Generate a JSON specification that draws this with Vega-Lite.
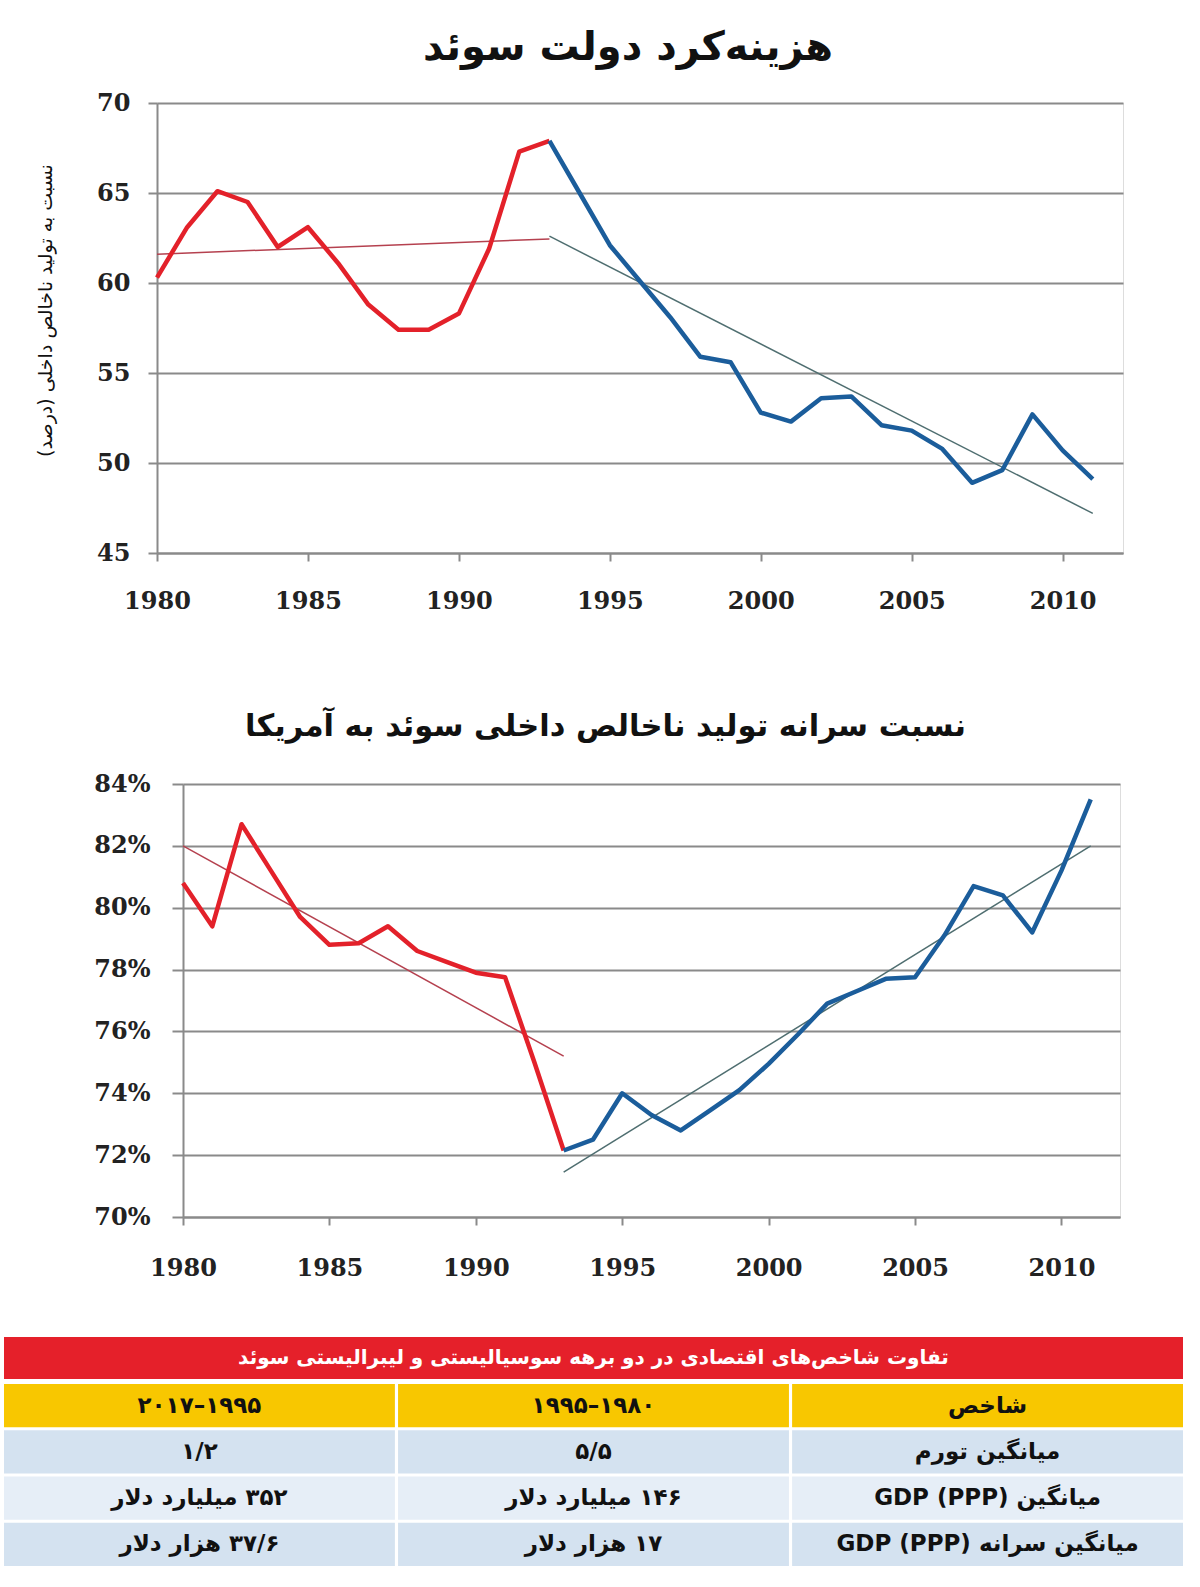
{
  "$schema": "https://vega.github.io/schema/vega-lite/v6.json",
  "background": "white",
  "padding": {"left": 4, "top": 27, "right": 0, "bottom": 0},
  "columns": 1,
  "align": "none",
  "bounds": "full",
  "spacing": 5,
  "resolve": {"scale": {"color": "independent"}},
  "config": {
    "font": "DejaVu Sans",
    "axis": {"labelFont": "DejaVu Serif", "labelFontWeight": "bold", "labelFontSize": 24, "labelColor": "#222"}
  },
  "datasets": {
    "gov": [
      {"year": 1980, "value": 60.3, "part": "a"}, {"year": 1981, "value": 63.1, "part": "a"},
      {"year": 1982, "value": 65.1, "part": "a"}, {"year": 1983, "value": 64.5, "part": "a"},
      {"year": 1984, "value": 62.0, "part": "a"}, {"year": 1985, "value": 63.1, "part": "a"},
      {"year": 1986, "value": 61.1, "part": "a"}, {"year": 1987, "value": 58.8, "part": "a"},
      {"year": 1988, "value": 57.4, "part": "a"}, {"year": 1989, "value": 57.4, "part": "a"},
      {"year": 1990, "value": 58.3, "part": "a"}, {"year": 1991, "value": 61.9, "part": "a"},
      {"year": 1992, "value": 67.3, "part": "a"}, {"year": 1993, "value": 67.9, "part": "a"},
      {"year": 1993, "value": 67.9, "part": "b"}, {"year": 1994, "value": 65.0, "part": "b"},
      {"year": 1995, "value": 62.1, "part": "b"}, {"year": 1996, "value": 60.1, "part": "b"},
      {"year": 1997, "value": 58.1, "part": "b"}, {"year": 1998, "value": 55.9, "part": "b"},
      {"year": 1999, "value": 55.6, "part": "b"}, {"year": 2000, "value": 52.8, "part": "b"},
      {"year": 2001, "value": 52.3, "part": "b"}, {"year": 2002, "value": 53.6, "part": "b"},
      {"year": 2003, "value": 53.7, "part": "b"}, {"year": 2004, "value": 52.1, "part": "b"},
      {"year": 2005, "value": 51.8, "part": "b"}, {"year": 2006, "value": 50.8, "part": "b"},
      {"year": 2007, "value": 48.9, "part": "b"}, {"year": 2008, "value": 49.6, "part": "b"},
      {"year": 2009, "value": 52.7, "part": "b"}, {"year": 2010, "value": 50.7, "part": "b"},
      {"year": 2011, "value": 49.1, "part": "b"}
    ],
    "govTrend": [
      {"year": 1980, "value": 61.6, "part": "ta"}, {"year": 1993, "value": 62.45, "part": "ta"},
      {"year": 1993, "value": 62.6, "part": "tb"}, {"year": 2011, "value": 47.2, "part": "tb"}
    ],
    "ratio": [
      {"year": 1980, "value": 80.8, "part": "a"}, {"year": 1981, "value": 79.4, "part": "a"},
      {"year": 1982, "value": 82.7, "part": "a"}, {"year": 1983, "value": 81.2, "part": "a"},
      {"year": 1984, "value": 79.7, "part": "a"}, {"year": 1985, "value": 78.8, "part": "a"},
      {"year": 1986, "value": 78.85, "part": "a"}, {"year": 1987, "value": 79.4, "part": "a"},
      {"year": 1988, "value": 78.6, "part": "a"}, {"year": 1989, "value": 78.25, "part": "a"},
      {"year": 1990, "value": 77.9, "part": "a"}, {"year": 1991, "value": 77.75, "part": "a"},
      {"year": 1992, "value": 75.0, "part": "a"}, {"year": 1993, "value": 72.15, "part": "a"},
      {"year": 1993, "value": 72.15, "part": "b"}, {"year": 1994, "value": 72.5, "part": "b"},
      {"year": 1995, "value": 74.0, "part": "b"}, {"year": 1996, "value": 73.3, "part": "b"},
      {"year": 1997, "value": 72.8, "part": "b"}, {"year": 1998, "value": 73.45, "part": "b"},
      {"year": 1999, "value": 74.1, "part": "b"}, {"year": 2000, "value": 74.95, "part": "b"},
      {"year": 2001, "value": 75.9, "part": "b"}, {"year": 2002, "value": 76.9, "part": "b"},
      {"year": 2003, "value": 77.3, "part": "b"}, {"year": 2004, "value": 77.7, "part": "b"},
      {"year": 2005, "value": 77.75, "part": "b"}, {"year": 2006, "value": 79.1, "part": "b"},
      {"year": 2007, "value": 80.7, "part": "b"}, {"year": 2008, "value": 80.4, "part": "b"},
      {"year": 2009, "value": 79.2, "part": "b"}, {"year": 2010, "value": 81.2, "part": "b"},
      {"year": 2011, "value": 83.5, "part": "b"}
    ],
    "ratioTrend": [
      {"year": 1980, "value": 82.0, "part": "ta"}, {"year": 1993, "value": 75.2, "part": "ta"},
      {"year": 1993, "value": 71.45, "part": "tb"}, {"year": 2011, "value": 82.0, "part": "tb"}
    ],
    "tableTitle": [
      {"label": "تفاوت شاخص‌های اقتصادی در دو برهه سوسیالیستی و لیبرالیستی سوئد"}
    ],
    "table": [
      {"row": "h", "col": "c1", "label": "شاخص"},
      {"row": "h", "col": "c2", "label": "‏۱۹۸۰–۱۹۹۵"},
      {"row": "h", "col": "c3", "label": "‏۱۹۹۵–۲۰۱۷"},
      {"row": "r1", "col": "c1", "label": "میانگین تورم"},
      {"row": "r1", "col": "c2", "label": "۵/۵"},
      {"row": "r1", "col": "c3", "label": "۱/۲"},
      {"row": "r2", "col": "c1", "label": "GDP (PPP) میانگین"},
      {"row": "r2", "col": "c2", "label": "‏۱۴۶ میلیارد دلار"},
      {"row": "r2", "col": "c3", "label": "‏۳۵۲ میلیارد دلار"},
      {"row": "r3", "col": "c1", "label": "GDP (PPP) میانگین سرانه"},
      {"row": "r3", "col": "c2", "label": "‏۱۷ هزار دلار"},
      {"row": "r3", "col": "c3", "label": "‏۳۷/۶ هزار دلار"}
    ]
  },
  "concat": [
    {
      "spacing": 0,
      "hconcat": [
        {"width": 32, "height": 10, "view": {"stroke": null}, "data": {"values": []}, "mark": "point"},
        {
          "width": 966,
          "height": 450,
          "title": {"text": "هزینه‌کرد دولت سوئد", "fontSize": 40, "fontWeight": "bold", "color": "#111", "offset": 23, "dx": -12},
          "encoding": {
            "x": {
              "field": "year", "type": "quantitative",
              "scale": {"domain": [1980, 2012], "nice": false, "zero": false},
              "axis": {
                "values": [1980, 1985, 1990, 1995, 2000, 2005, 2010], "format": "d", "grid": false, "labelFlush": false,
                "domainColor": "#8a8a8a", "domainWidth": 2, "tickColor": "#8a8a8a", "tickWidth": 2, "tickSize": 8,
                "labelPadding": 28,
                "title": ".", "titleOpacity": 0, "titleFontSize": 10, "titlePadding": 82
              }
            },
            "y": {
              "field": "value", "type": "quantitative",
              "scale": {"domain": [45, 70], "nice": false, "zero": false},
              "axis": {
                "values": [45, 50, 55, 60, 65, 70], "grid": true, "gridColor": "#8a8a8a", "gridWidth": 2,
                "domainColor": "#8a8a8a", "domainWidth": 2, "tickColor": "#8a8a8a", "tickWidth": 2, "tickSize": 9,
                "labelPadding": 18,
                "title": "نسبت به تولید ناخالص داخلی (درصد)‏", "titleFontSize": 19, "titleFontWeight": "normal",
                "titleColor": "#111", "titlePadding": 41, "titleY": 207
              }
            },
            "color": {
              "field": "part", "type": "nominal",
              "scale": {"domain": ["a", "b", "ta", "tb"], "range": ["#e3212a", "#1b5d9b", "#b5414f", "#4f6e70"]},
              "legend": null
            }
          },
          "layer": [
            {"data": {"name": "govTrend"}, "mark": {"type": "line", "strokeWidth": 1.5}},
            {"data": {"name": "gov"}, "mark": {"type": "line", "strokeWidth": 4.5, "strokeJoin": "round"}}
          ]
        }
      ]
    },
    {
      "spacing": 0,
      "hconcat": [
        {"width": 89, "height": 10, "view": {"stroke": null}, "data": {"values": []}, "mark": "point"},
        {
          "width": 937,
          "height": 433,
          "title": {"text": "نسبت سرانه تولید ناخالص داخلی سوئد به آمریکا", "fontSize": 30.5, "fontWeight": "bold", "color": "#111", "offset": 30, "dx": -46},
          "encoding": {
            "x": {
              "field": "year", "type": "quantitative",
              "scale": {"domain": [1980, 2012], "nice": false, "zero": false},
              "axis": {
                "values": [1980, 1985, 1990, 1995, 2000, 2005, 2010], "format": "d", "grid": false, "labelFlush": false,
                "domainColor": "#8a8a8a", "domainWidth": 2, "tickColor": "#8a8a8a", "tickWidth": 2, "tickSize": 8,
                "labelPadding": 31,
                "title": ".", "titleOpacity": 0, "titleFontSize": 10, "titlePadding": 41
              }
            },
            "y": {
              "field": "value", "type": "quantitative",
              "scale": {"domain": [70, 84], "nice": false, "zero": false},
              "axis": {
                "values": [70, 72, 74, 76, 78, 80, 82, 84], "labelExpr": "datum.value + '%'",
                "grid": true, "gridColor": "#8a8a8a", "gridWidth": 2,
                "domainColor": "#8a8a8a", "domainWidth": 2, "tickColor": "#8a8a8a", "tickWidth": 2, "tickSize": 11,
                "labelPadding": 22, "title": null
              }
            },
            "color": {
              "field": "part", "type": "nominal",
              "scale": {"domain": ["a", "b", "ta", "tb"], "range": ["#e3212a", "#1b5d9b", "#b5414f", "#4f6e70"]},
              "legend": null
            }
          },
          "layer": [
            {"data": {"name": "ratioTrend"}, "mark": {"type": "line", "strokeWidth": 1.5}},
            {"data": {"name": "ratio"}, "mark": {"type": "line", "strokeWidth": 4.5, "strokeJoin": "round"}}
          ]
        }
      ]
    },
    {
      "width": 1179,
      "height": 42,
      "view": {"fill": "#e5202a", "stroke": null},
      "data": {"name": "tableTitle"},
      "mark": {"type": "text", "color": "white", "fontSize": 20, "fontWeight": "bold", "baseline": "middle", "align": "center"},
      "encoding": {"text": {"field": "label", "type": "nominal"}}
    },
    {
      "width": 1179,
      "height": 182,
      "view": {"stroke": null},
      "data": {"name": "table"},
      "encoding": {
        "x": {"field": "col", "type": "nominal", "scale": {"domain": ["c3", "c2", "c1"], "paddingInner": 0.008, "paddingOuter": 0}, "axis": null},
        "y": {"field": "row", "type": "nominal", "scale": {"domain": ["h", "r1", "r2", "r3"], "paddingInner": 0.066, "paddingOuter": 0}, "axis": null}
      },
      "layer": [
        {
          "mark": {"type": "rect"},
          "encoding": {
            "color": {"field": "row", "type": "nominal", "scale": {"domain": ["h", "r1", "r2", "r3"], "range": ["#f8c700", "#d4e2f0", "#e6eef7", "#d4e2f0"]}, "legend": null}
          }
        },
        {
          "mark": {"type": "text", "color": "#111", "fontSize": 23, "fontWeight": "bold", "baseline": "middle"},
          "encoding": {"text": {"field": "label", "type": "nominal"}}
        }
      ]
    }
  ]
}
